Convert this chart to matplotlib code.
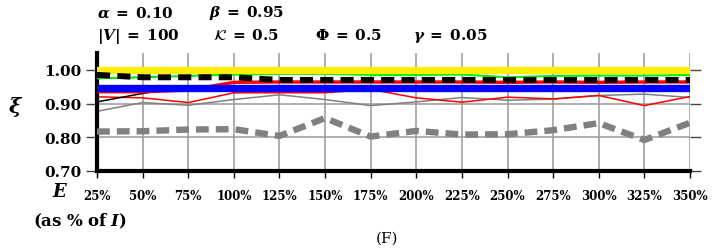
import numpy as np
import matplotlib.pyplot as plt

plt.rcParams['font.family'] = ['DejaVu Serif']
plt.rcParams['mathtext.fontset'] = 'dejavuserif'

# x positions (E as % of I)
e_pct = [25, 50, 75, 100, 125, 150, 175, 200, 225, 250, 275, 300, 325, 350]
e_labels = ["25%", "50%", "75%", "100%", "125%", "150%", "175%", "200%",
            "225%", "250%", "275%", "300%", "325%", "350%"]

yellow = [1.000, 1.000, 1.000, 1.000, 1.000, 1.000, 1.000, 1.000, 1.000, 1.000, 1.000, 1.000, 1.000, 1.000]
green = [0.975, 0.978, 0.982, 0.986, 0.988, 0.988, 0.985, 0.985, 0.986, 0.978, 0.982, 0.983, 0.983, 0.985]
black_dash = [0.985, 0.978, 0.978, 0.978, 0.970, 0.970, 0.970, 0.970, 0.970, 0.970, 0.970, 0.970, 0.970, 0.970]
red_thick = [0.935, 0.935, 0.940, 0.963, 0.964, 0.964, 0.964, 0.964, 0.964, 0.963, 0.964, 0.963, 0.964, 0.964]
blue = [0.947, 0.947, 0.947, 0.947, 0.947, 0.947, 0.947, 0.947, 0.947, 0.947, 0.947, 0.947, 0.947, 0.947]
black_thin = [0.905, 0.930, 0.950, 0.950, 0.950, 0.950, 0.950, 0.950, 0.950, 0.950, 0.950, 0.950, 0.950, 0.950]
red_thin = [0.920, 0.917, 0.903, 0.932, 0.932, 0.932, 0.942, 0.917, 0.904, 0.919, 0.914, 0.924, 0.894, 0.921]
gray_thin = [0.877, 0.903, 0.895, 0.912, 0.926, 0.912, 0.894, 0.905, 0.918, 0.910, 0.913, 0.924, 0.928, 0.918]
gray_dash = [0.817, 0.818, 0.823, 0.824, 0.804, 0.857, 0.802, 0.819, 0.808, 0.809, 0.821, 0.842, 0.792, 0.843]

fig = plt.figure(figsize=(7.28, 2.53), dpi=100)
ax = fig.add_axes([97 / 728, 1 - 172 / 253, (690 - 97) / 728, (172 - 54) / 253])

ax.plot(e_pct, gray_thin, color='#808080', lw=1.1, zorder=2)
ax.plot(e_pct, red_thin, color='red', lw=1.1, zorder=2)
ax.plot(e_pct, black_thin, color='black', lw=1.1, zorder=2)
ax.plot(e_pct, red_thick, color='red', lw=2.4, zorder=3)
ax.plot(e_pct, green, color='#00ee00', lw=1.5, zorder=3)
ax.plot(e_pct, blue, color='blue', lw=5.3, zorder=4)
ax.plot(e_pct, yellow, color='#ffee00', lw=5.2, zorder=4)
ax.plot(e_pct, black_dash, color='black', lw=4.3, ls=(0, (2.2, 1.2)), zorder=6)
ax.plot(e_pct, gray_dash, color='#808080', lw=4.6, ls=(0, (2.0, 1.1)), zorder=6)

ax.set_xlim(25, 350)
ax.set_ylim(0.70, 1.05)
ax.set_xticks(e_pct)
ax.set_xticklabels(e_labels, fontsize=8.5, fontweight='bold')
ax.set_yticks([0.70, 0.80, 0.90, 1.00])
ax.set_yticklabels(["0.70", "0.80", "0.90", "1.00"], fontsize=11, fontweight='bold')
ax.grid(True, color='#999999', lw=1.1, zorder=0)
ax.set_axisbelow(True)

for s in ['top', 'right']:
    ax.spines[s].set_visible(False)
for s in ['left', 'bottom']:
    ax.spines[s].set_linewidth(3)
ax.tick_params(axis='x', length=5, width=1, pad=8, color='black')
ax.tick_params(axis='y', length=8, width=1, pad=3, color='#444444', right=True)

# labels
fig.text(16 / 728, 1 - 107 / 253, r"$\boldsymbol{\xi}$", fontsize=15, ha='center', va='center')
fig.text(60 / 728, 1 - 192 / 253, r"$\boldsymbol{E}$", fontsize=13, ha='center', va='center')
fig.text(33 / 728, 1 - 221 / 253, r"$\mathbf{(as\ \%\ of\ }\boldsymbol{I}\mathbf{)}$",
         fontsize=12, ha='left', va='center')
fig.text(387 / 728, 1 - 239 / 253, "(F)", fontsize=11, ha='center', va='center')

# parameter header
hdr = dict(fontsize=11, va='center')
fig.text(97 / 728, 1 - 13 / 253, r"$\boldsymbol{\alpha}\;\mathbf{=}\;\mathbf{0.10}$", **hdr)
fig.text(209 / 728, 1 - 13 / 253, r"$\boldsymbol{\beta}\;\mathbf{=}\;\mathbf{0.95}$", **hdr)
fig.text(97 / 728, 1 - 36 / 253, r"$\mathbf{|}\boldsymbol{V}\mathbf{|}\;\mathbf{=}\;\mathbf{100}$", **hdr)
fig.text(213 / 728, 1 - 36 / 253, r"$\mathcal{K}\;\mathbf{=}\;\mathbf{0.5}$", **hdr)
fig.text(315 / 728, 1 - 36 / 253, r"$\mathbf{\Phi}\;\mathbf{=}\;\mathbf{0.5}$", **hdr)
fig.text(413 / 728, 1 - 36 / 253, r"$\boldsymbol{\gamma}\;\mathbf{=}\;\mathbf{0.05}$", **hdr)

fig.savefig("out.png", dpi=100)
